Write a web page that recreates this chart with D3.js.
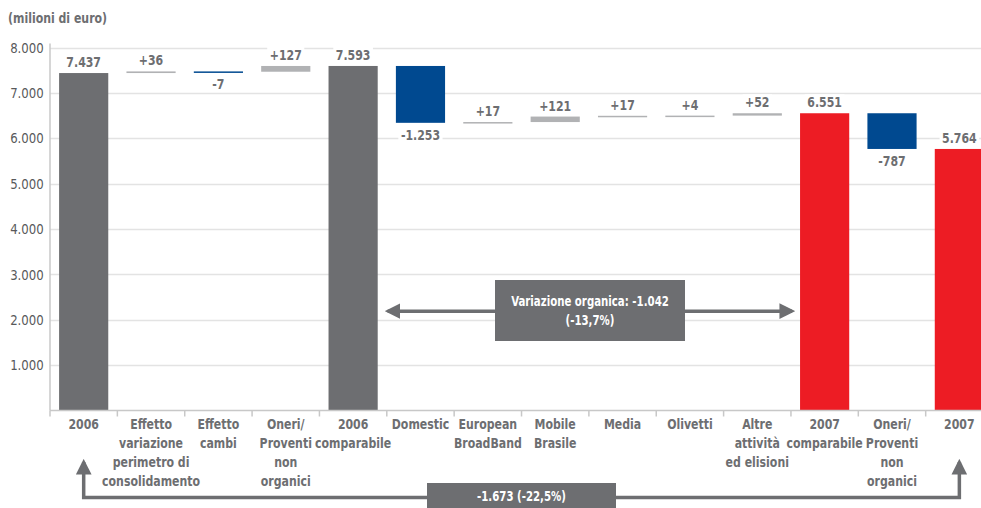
<!DOCTYPE html>
<html>
<head>
<meta charset="utf-8">
<script src="https://cdn.jsdelivr.net/npm/d3@7"></script>
<style>
  html, body { margin: 0; padding: 0; background: #fff; }
  svg { display: block; font-family: "DejaVu Sans Condensed", "DejaVu Sans", sans-serif; }
</style>
</head>
<body>
<svg id="chart" width="981" height="508"></svg>
<script>
// Waterfall: bridge from 2006 to 2007 (milioni di euro)
const categories = [
  ["2006"],
  ["Effetto", "variazione", "perimetro di", "consolidamento"],
  ["Effetto", "cambi"],
  ["Oneri/", "Proventi", "non", "organici"],
  ["2006", "comparabile"],
  ["Domestic"],
  ["European", "BroadBand"],
  ["Mobile", "Brasile"],
  ["Media"],
  ["Olivetti"],
  ["Altre", "attività", "ed elisioni"],
  ["2007", "comparabile"],
  ["Oneri/", "Proventi", "non", "organici"],
  ["2007"]
];
// kind: "total" bars start at zero, "delta" bars float on the running sum
const kinds  = ["total", "delta", "delta", "delta", "total", "delta", "delta", "delta", "delta", "delta", "delta", "total", "delta", "total"];
const values = [7437, 36, -7, 127, 7593, -1253, 17, 121, 17, 4, 52, 6551, -787, 5764];
const labels = ["7.437", "+36", "-7", "+127", "7.593", "-1.253", "+17", "+121", "+17", "+4", "+52", "6.551", "-787", "5.764"];
const totalColors = ["#6d6e71", null, null, null, "#6d6e71", null, null, null, null, null, null, "#ed1c24", null, "#ed1c24"];
const yTicks = [1000, 2000, 3000, 4000, 5000, 6000, 7000, 8000];
const yTickLabels = ["1.000", "2.000", "3.000", "4.000", "5.000", "6.000", "7.000", "8.000"];
const organicNote = ["Variazione organica: -1.042", "(-13,7%)"];
const totalNote = "-1.673 (-22,5%)";

const svg = d3.select("#chart");
const margin = { left: 50, top: 47.5, bottom: 410.5 };
const bandW = 67.36;
const textGray = "#6d6e71";
const SQUEEZE = 0.84; // horizontal squeeze for a narrow, condensed face

// Writes one or more lines of condensed text anchored at (x, y)
function narrowText(parent, x, y, lines, opt) {
  const o = Object.assign({ size: 14, weight: "bold", fill: textGray, anchor: "middle", lh: 19, sx: SQUEEZE, bg: null }, opt || {});
  const g = parent.append("g").attr("transform", `translate(${x},${y}) scale(${o.sx},1)`);
  const t = g.append("text")
    .attr("text-anchor", o.anchor)
    .attr("font-size", o.size).attr("font-weight", o.weight)
    .attr("fill", o.fill);
  [].concat(lines).forEach((ln, k) => {
    t.append("tspan").attr("x", 0).attr("y", k * o.lh).text(ln);
  });
  if (o.bg) {
    const b = t.node().getBBox();
    g.insert("rect", "text")
      .attr("x", b.x - 3).attr("y", b.y)
      .attr("width", b.width + 6).attr("height", b.height)
      .attr("fill", o.bg);
  }
  return g;
}

const x = d3.scaleBand()
  .domain(d3.range(categories.length))
  .range([margin.left, margin.left + bandW * categories.length])
  .paddingInner(0.27)
  .paddingOuter(0.135);

const y = d3.scaleLinear().domain([0, 8000]).range([margin.bottom, margin.top]);

// Title
narrowText(svg, 8, 23, "(milioni di euro)", { anchor: "start", size: 14.5 });

// Gridlines
svg.append("g").selectAll("line").data(yTicks).join("line")
  .attr("x1", margin.left).attr("x2", 981)
  .attr("y1", d => Math.round(y(d)) + 0.5).attr("y2", d => Math.round(y(d)) + 0.5)
  .attr("stroke", "#e3e3e3").attr("stroke-width", 1.5);

// Y axis
const yAxis = d3.axisLeft(y)
  .tickValues(yTicks)
  .tickFormat((d, i) => yTickLabels[i])
  .tickSize(0).tickPadding(7);
const gy = svg.append("g").attr("transform", `translate(${margin.left},0)`).call(yAxis);
gy.select(".domain").attr("stroke", "#c8c8c8").attr("stroke-width", 1.5)
  .attr("d", `M0,${margin.bottom}V${margin.top - 4}`);
gy.selectAll("text")
  .attr("font-size", 14.5).attr("fill", "#58595b")
  .attr("font-family", "DejaVu Sans Condensed, DejaVu Sans, sans-serif")
  .attr("transform", "scale(0.9,1)");

// Compute bar extents
let running = 0;
const bars = values.map((v, i) => {
  let lo, hi;
  if (kinds[i] === "total") { lo = 0; hi = v; running = v; }
  else { const start = running; running += v; lo = Math.min(start, running); hi = Math.max(start, running); }
  let color;
  if (kinds[i] === "total") color = totalColors[i];
  else color = v < 0 ? "#004990" : "#b1b2b4";
  return { i, v, lo, hi, color, label: labels[i], neg: kinds[i] === "delta" && v < 0 };
});

// Bars (at least 1.5px tall so tiny deltas show as a line)
svg.append("g").selectAll("rect").data(bars).join("rect")
  .attr("x", d => x(d.i))
  .attr("width", x.bandwidth())
  .attr("y", d => y(d.hi))
  .attr("height", d => Math.max(1.5, y(d.lo) - y(d.hi)))
  .attr("fill", d => d.color);

// Value labels, on a white patch so gridlines pass behind them
const valG = svg.append("g");
bars.forEach(d => {
  narrowText(valG, x(d.i) + x.bandwidth() / 2, d.neg ? y(d.lo) + 17 : y(d.hi) - 6, d.label, { size: 14.5, bg: "#fff" });
});

// X axis baseline with category dividers
const xAxisY = margin.bottom;
svg.append("line")
  .attr("x1", margin.left).attr("x2", 981)
  .attr("y1", xAxisY).attr("y2", xAxisY)
  .attr("stroke", "#c8c8c8").attr("stroke-width", 1.5);
svg.append("g").selectAll("line").data(d3.range(categories.length + 1)).join("line")
  .attr("x1", d => margin.left + d * bandW).attr("x2", d => margin.left + d * bandW)
  .attr("y1", xAxisY).attr("y2", xAxisY + 6)
  .attr("stroke", "#c8c8c8").attr("stroke-width", 1.5);

// Category labels
const catG = svg.append("g");
categories.forEach((lines, i) => {
  narrowText(catG, x(i) + x.bandwidth() / 2, 429, lines, { size: 14.5 });
});

// Arrow markers
const defs = svg.append("defs");
defs.append("marker")
  .attr("id", "arrow").attr("viewBox", "0 0 10 10")
  .attr("refX", 8).attr("refY", 5)
  .attr("markerWidth", 4.5).attr("markerHeight", 4.5)
  .attr("markerUnits", "strokeWidth")
  .attr("orient", "auto-start-reverse")
  .append("path").attr("d", "M0,0L10,5L0,10z").attr("fill", textGray);

// Organic variation: arrow between 2006 comparabile and 2007 comparabile
const orgY = y(2190);
svg.append("line")
  .attr("x1", x(4) + x.bandwidth() + 10).attr("x2", x(11) - 8)
  .attr("y1", orgY).attr("y2", orgY)
  .attr("stroke", textGray).attr("stroke-width", 3.5)
  .attr("marker-start", "url(#arrow)").attr("marker-end", "url(#arrow)");
const orgBox = { x0: 495, x1: 685, y0: 280, y1: 341 };
svg.append("rect")
  .attr("x", orgBox.x0).attr("y", orgBox.y0)
  .attr("width", orgBox.x1 - orgBox.x0).attr("height", orgBox.y1 - orgBox.y0)
  .attr("fill", textGray);
narrowText(svg, (orgBox.x0 + orgBox.x1) / 2, 306, organicNote, { size: 13.5, fill: "#fff", lh: 19 });

// Total variation: connector from 2006 to 2007 below the axis
const cx0 = x(0) + x.bandwidth() / 2, cx1 = x(13) + x.bandwidth() / 2;
const connY = 497.5;
svg.append("path")
  .attr("d", `M${cx0},462 V${connY} H${cx1} V462`)
  .attr("fill", "none").attr("stroke", textGray).attr("stroke-width", 3.5)
  .attr("marker-start", "url(#arrow)").attr("marker-end", "url(#arrow)");
const totBox = { x0: 427, x1: 616, y0: 483, y1: 508 };
svg.append("rect")
  .attr("x", totBox.x0).attr("y", totBox.y0)
  .attr("width", totBox.x1 - totBox.x0).attr("height", totBox.y1 - totBox.y0)
  .attr("fill", textGray);
narrowText(svg, (totBox.x0 + totBox.x1) / 2, 501, totalNote, { size: 13.5, fill: "#fff" });
</script>
</body>
</html>
